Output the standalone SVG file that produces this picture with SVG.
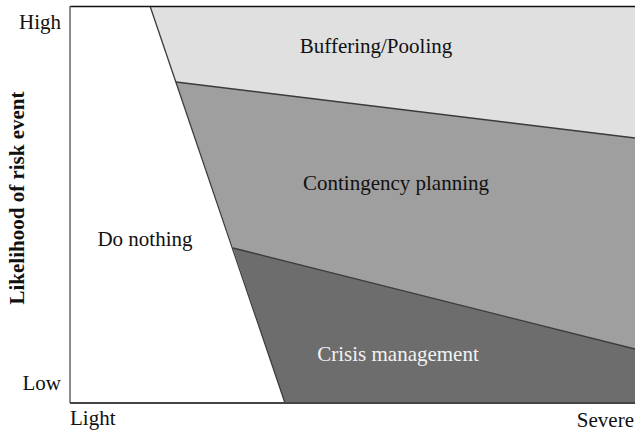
<svg xmlns="http://www.w3.org/2000/svg" width="635" height="434" viewBox="0 0 635 434">
<style>
text{font-family:"Liberation Serif","Times New Roman",serif;font-size:21px;fill:#111}
.edge{stroke:#3a3a3a;stroke-width:1.3;fill:none}
</style>
<rect x="0" y="0" width="635" height="434" fill="#fff"/>
<g id="buffering">
<polygon points="150,6 635,6 635,138 176,82" fill="#e0e0e0"/>
<text x="376" y="53" text-anchor="middle">Buffering/Pooling</text>
</g>
<g id="contingency">
<polygon points="176,82 635,138 635,349 233,248" fill="#9f9f9f"/>
<text x="396" y="190" text-anchor="middle">Contingency planning</text>
</g>
<g id="crisis">
<polygon points="233,248 635,349 635,403 285,403" fill="#6d6d6d"/>
<text x="398" y="361" text-anchor="middle" style="fill:#f2f2f2">Crisis management</text>
</g>
<g id="donothing">
<polygon points="70,6 150,6 285,403 70,403" fill="#fff"/>
<text x="145" y="246" text-anchor="middle">Do nothing</text>
</g>
<g id="connectors">
<line class="edge" x1="150" y1="6" x2="285" y2="403"/>
<line class="edge" x1="176" y1="82" x2="635" y2="138"/>
<line class="edge" x1="233" y1="248" x2="635" y2="349"/>
<line x1="70" y1="6.5" x2="635" y2="6.5" stroke="#111" stroke-width="1.5"/>
<line x1="70" y1="6" x2="70" y2="403" stroke="#666" stroke-width="1.5"/>
<line x1="70" y1="403" x2="635" y2="403" stroke="#444" stroke-width="1.8"/>
</g>
<g id="labels">
<text x="61" y="29" text-anchor="end">High</text>
<text x="61" y="390" text-anchor="end">Low</text>
<text x="70" y="425">Light</text>
<text x="634" y="427" text-anchor="end">Severe</text>
<text transform="translate(24,198) rotate(-90)" text-anchor="middle" style="font-weight:bold">Likelihood of risk event</text>
</g>
</svg>
